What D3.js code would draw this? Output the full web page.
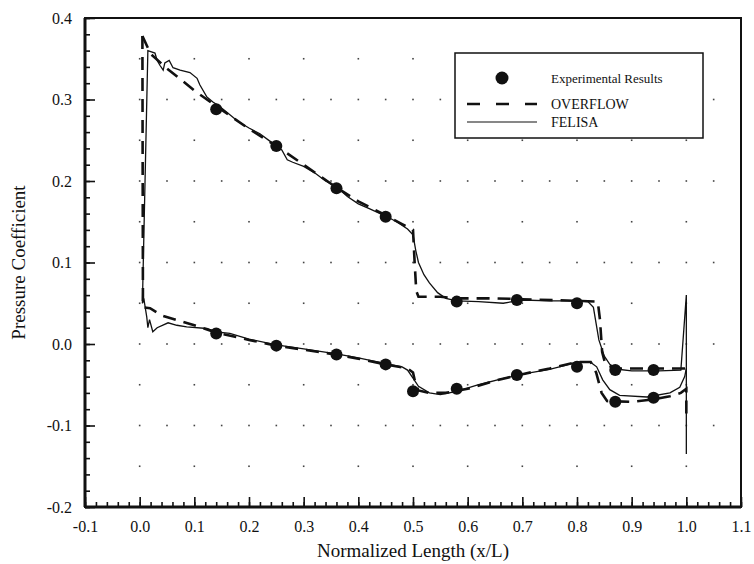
<!DOCTYPE html>
<html>
<head>
<meta charset="utf-8">
<script src="https://cdn.jsdelivr.net/npm/d3@7"></script>
<style>
  body { margin: 0; background: #fff; }
  text { font-family: "Liberation Serif", "DejaVu Serif", serif; fill: #111; }
</style>
</head>
<body>
<div id="chart"></div>
<script>
// data: [x/L, Cp]
var expUpper = [[0.14, 0.288], [0.25, 0.243], [0.36, 0.191], [0.45, 0.156], [0.58, 0.052],
  [0.69, 0.054], [0.80, 0.050], [0.87, -0.032], [0.94, -0.032]];
var expLower = [[0.14, 0.013], [0.25, -0.002], [0.36, -0.013], [0.45, -0.025], [0.50, -0.058],
  [0.58, -0.055], [0.69, -0.038], [0.80, -0.028], [0.87, -0.071], [0.94, -0.066]];

var overflowUpper = [[0.005, 0.378], [0.02, 0.356], [0.05, 0.338], [0.08, 0.322], [0.10, 0.311],
  [0.14, 0.292], [0.17, 0.278], [0.20, 0.264], [0.25, 0.243], [0.30, 0.220], [0.36, 0.192],
  [0.40, 0.175], [0.45, 0.158], [0.48, 0.147], [0.50, 0.140], [0.503, 0.100], [0.506, 0.065],
  [0.51, 0.058], [0.55, 0.058], [0.58, 0.056], [0.65, 0.056], [0.70, 0.055], [0.80, 0.053],
  [0.838, 0.052], [0.842, 0.030], [0.846, -0.010], [0.852, -0.025], [0.87, -0.030],
  [0.90, -0.030], [0.95, -0.030], [1.0, -0.030]];
var overflowLower = [[0.005, 0.378], [0.006, 0.045], [0.019, 0.044], [0.04, 0.035], [0.06, 0.031],
  [0.10, 0.023], [0.14, 0.014], [0.20, 0.005], [0.25, -0.002], [0.30, -0.007], [0.36, -0.013],
  [0.40, -0.018], [0.45, -0.025], [0.49, -0.030], [0.50, -0.035], [0.505, -0.050], [0.51, -0.057],
  [0.53, -0.060], [0.56, -0.060], [0.60, -0.055], [0.65, -0.045], [0.70, -0.037], [0.75, -0.030],
  [0.80, -0.022], [0.825, -0.022], [0.835, -0.035], [0.845, -0.060], [0.855, -0.070],
  [0.90, -0.071], [0.94, -0.068], [0.97, -0.064], [0.99, -0.060], [1.0, -0.055], [1.0, -0.090]];

var felisaUpper = [[0.005, 0.050], [0.015, 0.360], [0.028, 0.357], [0.032, 0.348], [0.037, 0.342],
  [0.043, 0.336], [0.046, 0.345], [0.054, 0.348], [0.061, 0.339], [0.074, 0.336], [0.092, 0.333],
  [0.105, 0.326], [0.110, 0.318], [0.123, 0.303], [0.134, 0.297], [0.147, 0.291], [0.16, 0.284],
  [0.18, 0.273], [0.20, 0.265], [0.22, 0.258], [0.24, 0.248], [0.25, 0.243], [0.26, 0.238],
  [0.27, 0.226], [0.28, 0.223], [0.30, 0.218], [0.32, 0.210], [0.34, 0.200], [0.36, 0.193],
  [0.38, 0.181], [0.40, 0.172], [0.42, 0.166], [0.44, 0.160], [0.45, 0.157], [0.47, 0.150],
  [0.49, 0.141], [0.50, 0.134], [0.505, 0.115], [0.51, 0.100], [0.52, 0.085], [0.53, 0.075],
  [0.545, 0.063], [0.56, 0.056], [0.58, 0.053], [0.62, 0.052], [0.665, 0.050], [0.70, 0.054],
  [0.75, 0.053], [0.80, 0.053], [0.82, 0.052], [0.83, 0.045], [0.835, 0.025], [0.84, 0.005],
  [0.85, -0.015], [0.86, -0.025], [0.875, -0.031], [0.90, -0.033], [0.95, -0.033], [0.99, -0.032],
  [1.0, 0.060], [1.0, -0.135]];
var felisaLower = [[0.005, 0.050], [0.008, 0.054], [0.013, 0.033], [0.015, 0.020], [0.018, 0.030],
  [0.024, 0.015], [0.032, 0.020], [0.052, 0.026], [0.068, 0.023], [0.086, 0.021], [0.123, 0.019],
  [0.14, 0.015], [0.165, 0.013], [0.20, 0.006], [0.25, -0.001], [0.30, -0.006], [0.36, -0.012],
  [0.40, -0.017], [0.45, -0.024], [0.48, -0.028], [0.49, -0.032], [0.50, -0.042], [0.51, -0.052],
  [0.53, -0.060], [0.55, -0.062], [0.58, -0.058], [0.62, -0.050], [0.66, -0.043], [0.70, -0.037],
  [0.75, -0.031], [0.78, -0.026], [0.80, -0.022], [0.824, -0.022], [0.836, -0.028], [0.847, -0.044],
  [0.86, -0.056], [0.878, -0.063], [0.928, -0.065], [0.97, -0.060], [0.988, -0.053], [0.997, -0.040],
  [1.0, -0.030]];

var xTicks = [-0.1, 0.0, 0.1, 0.2, 0.3, 0.4, 0.5, 0.6, 0.7, 0.8, 0.9, 1.0, 1.1];
var yTicks = [-0.2, -0.1, 0.0, 0.1, 0.2, 0.3, 0.4];
var legendLabels = ["Experimental Results", "OVERFLOW", "FELISA"];

var svgWidth = 754, svgHeight = 564;
var margin = { top: 18, right: 13, bottom: 57, left: 85 };
var width = svgWidth - margin.left - margin.right;
var height = svgHeight - margin.top - margin.bottom;

var svg = d3.select("#chart").append("svg")
  .attr("width", svgWidth)
  .attr("height", svgHeight);

var chartGroup = svg.append("g")
  .attr("transform", `translate(${margin.left}, ${margin.top})`);

var x = d3.scaleLinear().domain([-0.1, 1.1]).range([0, width]);
var y = d3.scaleLinear().domain([-0.2, 0.4]).range([height, 0]);

// plain hyphen for negatives, like the original
var fmt = d => d3.format(".1f")(d).replace("\u2212", "-");

// dotted background grid
var gridPts = [];
d3.range(0, 11).forEach(i => {
  d3.range(-3, 8).forEach(j => gridPts.push([i / 10, j / 20]));
});
d3.range(0, 11).forEach(i => {
  [-0.1, 0.0, 0.1, 0.2, 0.3].forEach(v => gridPts.push([i / 10 + 0.05, v]));
});
chartGroup.selectAll(".gdot").data(gridPts).enter().append("rect")
  .attr("class", "gdot")
  .attr("x", d => x(d[0]) - 0.8)
  .attr("y", d => y(d[1]) - 0.8)
  .attr("width", 1.6).attr("height", 1.6)
  .attr("fill", "#444");

// axes: ticks point inward
var bottomAxis = d3.axisBottom(x).tickValues(xTicks).tickSize(-10).tickPadding(14).tickFormat(fmt);
var leftAxis = d3.axisLeft(y).tickValues(yTicks).tickSize(-10).tickPadding(13).tickFormat(fmt);
var bottomMinor = d3.axisBottom(x).tickValues(d3.range(-0.1, 1.1001, 0.02)).tickSize(-5).tickFormat("");
var leftMinor = d3.axisLeft(y).tickValues(d3.range(-0.2, 0.4001, 0.02)).tickSize(-5).tickFormat("");

chartGroup.append("g").attr("transform", `translate(0, ${height})`).call(bottomMinor);
chartGroup.append("g").call(leftMinor);
var gx = chartGroup.append("g").attr("transform", `translate(0, ${height})`).call(bottomAxis);
var gy = chartGroup.append("g").call(leftAxis);
[gx, gy].forEach(g => {
  g.selectAll("text").style("font-size", "16px").style("font-family", "Liberation Serif");
});
chartGroup.selectAll(".tick line").attr("stroke", "#111").attr("stroke-width", 1.6);
chartGroup.selectAll(".domain").remove();

// frame
chartGroup.append("rect")
  .attr("width", width).attr("height", height)
  .attr("fill", "none").attr("stroke", "#111").attr("stroke-width", 2);
chartGroup.append("line").attr("x1", 0).attr("x2", 0).attr("y1", 0).attr("y2", height)
  .attr("stroke", "#111").attr("stroke-width", 3);
chartGroup.append("line").attr("x1", 0).attr("x2", width).attr("y1", height).attr("y2", height)
  .attr("stroke", "#111").attr("stroke-width", 3);

var line = d3.line().x(d => x(d[0])).y(d => y(d[1]));

// FELISA (thin solid)
[felisaUpper, felisaLower].forEach(s => {
  chartGroup.append("path").datum(s).attr("d", line)
    .attr("fill", "none").attr("stroke", "#111").attr("stroke-width", 1.3);
});

// OVERFLOW (heavy dashed)
[overflowUpper, overflowLower].forEach(s => {
  chartGroup.append("path").datum(s).attr("d", line)
    .attr("fill", "none").attr("stroke", "#111").attr("stroke-width", 2.6)
    .attr("stroke-dasharray", "13,8");
});

// experimental points
chartGroup.selectAll(".exp").data(expUpper.concat(expLower)).enter().append("circle")
  .attr("class", "exp")
  .attr("cx", d => x(d[0]))
  .attr("cy", d => y(d[1]))
  .attr("r", 6)
  .attr("fill", "#111");

// legend
var legend = svg.append("g").attr("transform", "translate(455, 53)");
legend.append("rect").attr("width", 248).attr("height", 85)
  .attr("fill", "#fff").attr("stroke", "#111").attr("stroke-width", 1.5);
legend.append("circle").attr("cx", 47).attr("cy", 25).attr("r", 6.5).attr("fill", "#111");
legend.append("line").attr("x1", 12).attr("x2", 82).attr("y1", 51).attr("y2", 51)
  .attr("stroke", "#111").attr("stroke-width", 2.6).attr("stroke-dasharray", "13,16");
legend.append("line").attr("x1", 12).attr("x2", 82).attr("y1", 69).attr("y2", 69)
  .attr("stroke", "#111").attr("stroke-width", 1.2);
legend.selectAll(".ltxt").data(legendLabels).enter().append("text")
  .attr("class", "ltxt")
  .attr("x", 96)
  .attr("y", (d, i) => [30, 56, 74][i])
  .style("font-size", (d, i) => i === 0 ? "13px" : "14px")
  .text(d => d);

// axis titles
svg.append("text")
  .attr("x", margin.left + width / 2).attr("y", 557)
  .attr("text-anchor", "middle")
  .style("font-size", "19px")
  .text("Normalized Length (x/L)");
svg.append("text")
  .attr("transform", `translate(25, ${margin.top + height / 2}) rotate(-90)`)
  .attr("text-anchor", "middle")
  .style("font-size", "19px")
  .text("Pressure Coefficient");
</script>
</body>
</html>
